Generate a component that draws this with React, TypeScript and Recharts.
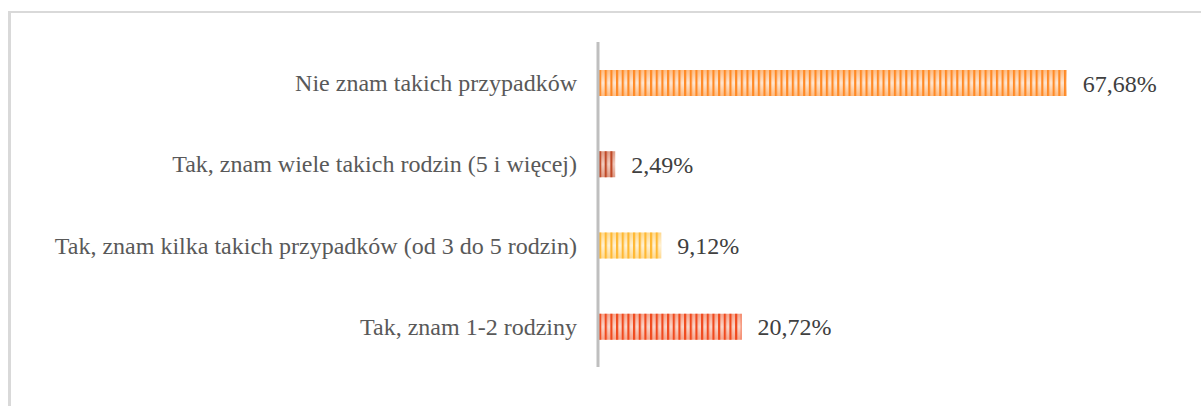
import React from "react";
import { BarChart, Bar, XAxis, YAxis, LabelList } from "recharts";

const categories = [
  "Nie znam takich przypadków",
  "Tak, znam wiele takich rodzin (5 i więcej)",
  "Tak, znam kilka takich przypadków (od 3 do 5 rodzin)",
  "Tak, znam 1-2 rodziny",
];
const values = [67.68, 2.49, 9.12, 20.72];

const stripeColors = ["#FF8A26", "#C04A28", "#FFB833", "#F04A1E"];
const edgeColors = ["#FDBB82", "#DE9A84", "#FFD98E", "#F5A48C"];
const centerColors = ["#FEE6D2", "#F2CCBE", "#FFF1D4", "#FAD6CA"];

const data = categories.map((name, i) => ({ name, value: values[i] }));

const FONT = "'Liberation Serif', 'Times New Roman', serif";

const fmt = (v: any) => `${Number(v).toFixed(2).replace(".", ",")}%`;

const StripedBar = (props: any) => {
  const { x, y, width, height, index } = props;
  if (width <= 0) return null;
  return (
    <g>
      <rect x={x} y={y} width={width} height={height} fill={`url(#grad${index})`} />
      <rect x={x} y={y} width={width} height={height} fill={`url(#pat${index})`} />
    </g>
  );
};

export default function App() {
  return (
    <div
      style={{
        position: "fixed",
        left: 0,
        top: 0,
        width: 1201,
        height: 406,
        overflow: "hidden",
        background: "#fff",
      }}
    >
      <div
        style={{
          position: "absolute",
          left: 8,
          top: 11,
          width: 1400,
          height: 600,
          borderTop: "2px solid #D9D9D9",
          borderLeft: "3px solid #D9D9D9",
        }}
      />
      <div style={{ position: "absolute", left: 0, top: 0 }}>
        <BarChart
          width={1201}
          height={406}
          data={data}
          layout="vertical"
          margin={{ top: 42, right: 49, bottom: 39, left: 0 }}
          barSize={26}
        >
          <defs>
            {stripeColors.map((c, i) => (
              <React.Fragment key={i}>
                <linearGradient id={`grad${i}`} x1="0" y1="0" x2="0" y2="1">
                  <stop offset="0%" stopColor={edgeColors[i]} />
                  <stop offset="50%" stopColor={centerColors[i]} />
                  <stop offset="100%" stopColor={edgeColors[i]} />
                </linearGradient>
                <pattern
                  id={`pat${i}`}
                  patternUnits="userSpaceOnUse"
                  x={599}
                  y={0}
                  width={5.67}
                  height={20}
                >
                  <rect x={0} y={0} width={2.2} height={20} fill={c} />
                </pattern>
              </React.Fragment>
            ))}
          </defs>
          <XAxis type="number" domain={[0, 80]} hide />
          <YAxis
            type="category"
            dataKey="name"
            width={598}
            interval={0}
            tickLine={false}
            tickSize={0}
            tickMargin={21}
            axisLine={{ stroke: "#BFBFBF", strokeWidth: 3 }}
            tick={{ fill: "#595959", fontSize: 24, fontFamily: FONT }}
          />
          <Bar dataKey="value" isAnimationActive={false} shape={StripedBar}>
            <LabelList
              dataKey="value"
              position="right"
              offset={16}
              formatter={fmt}
              fill="#404040"
              fontSize={24}
              fontFamily={FONT}
            />
          </Bar>
        </BarChart>
      </div>
    </div>
  );
}
